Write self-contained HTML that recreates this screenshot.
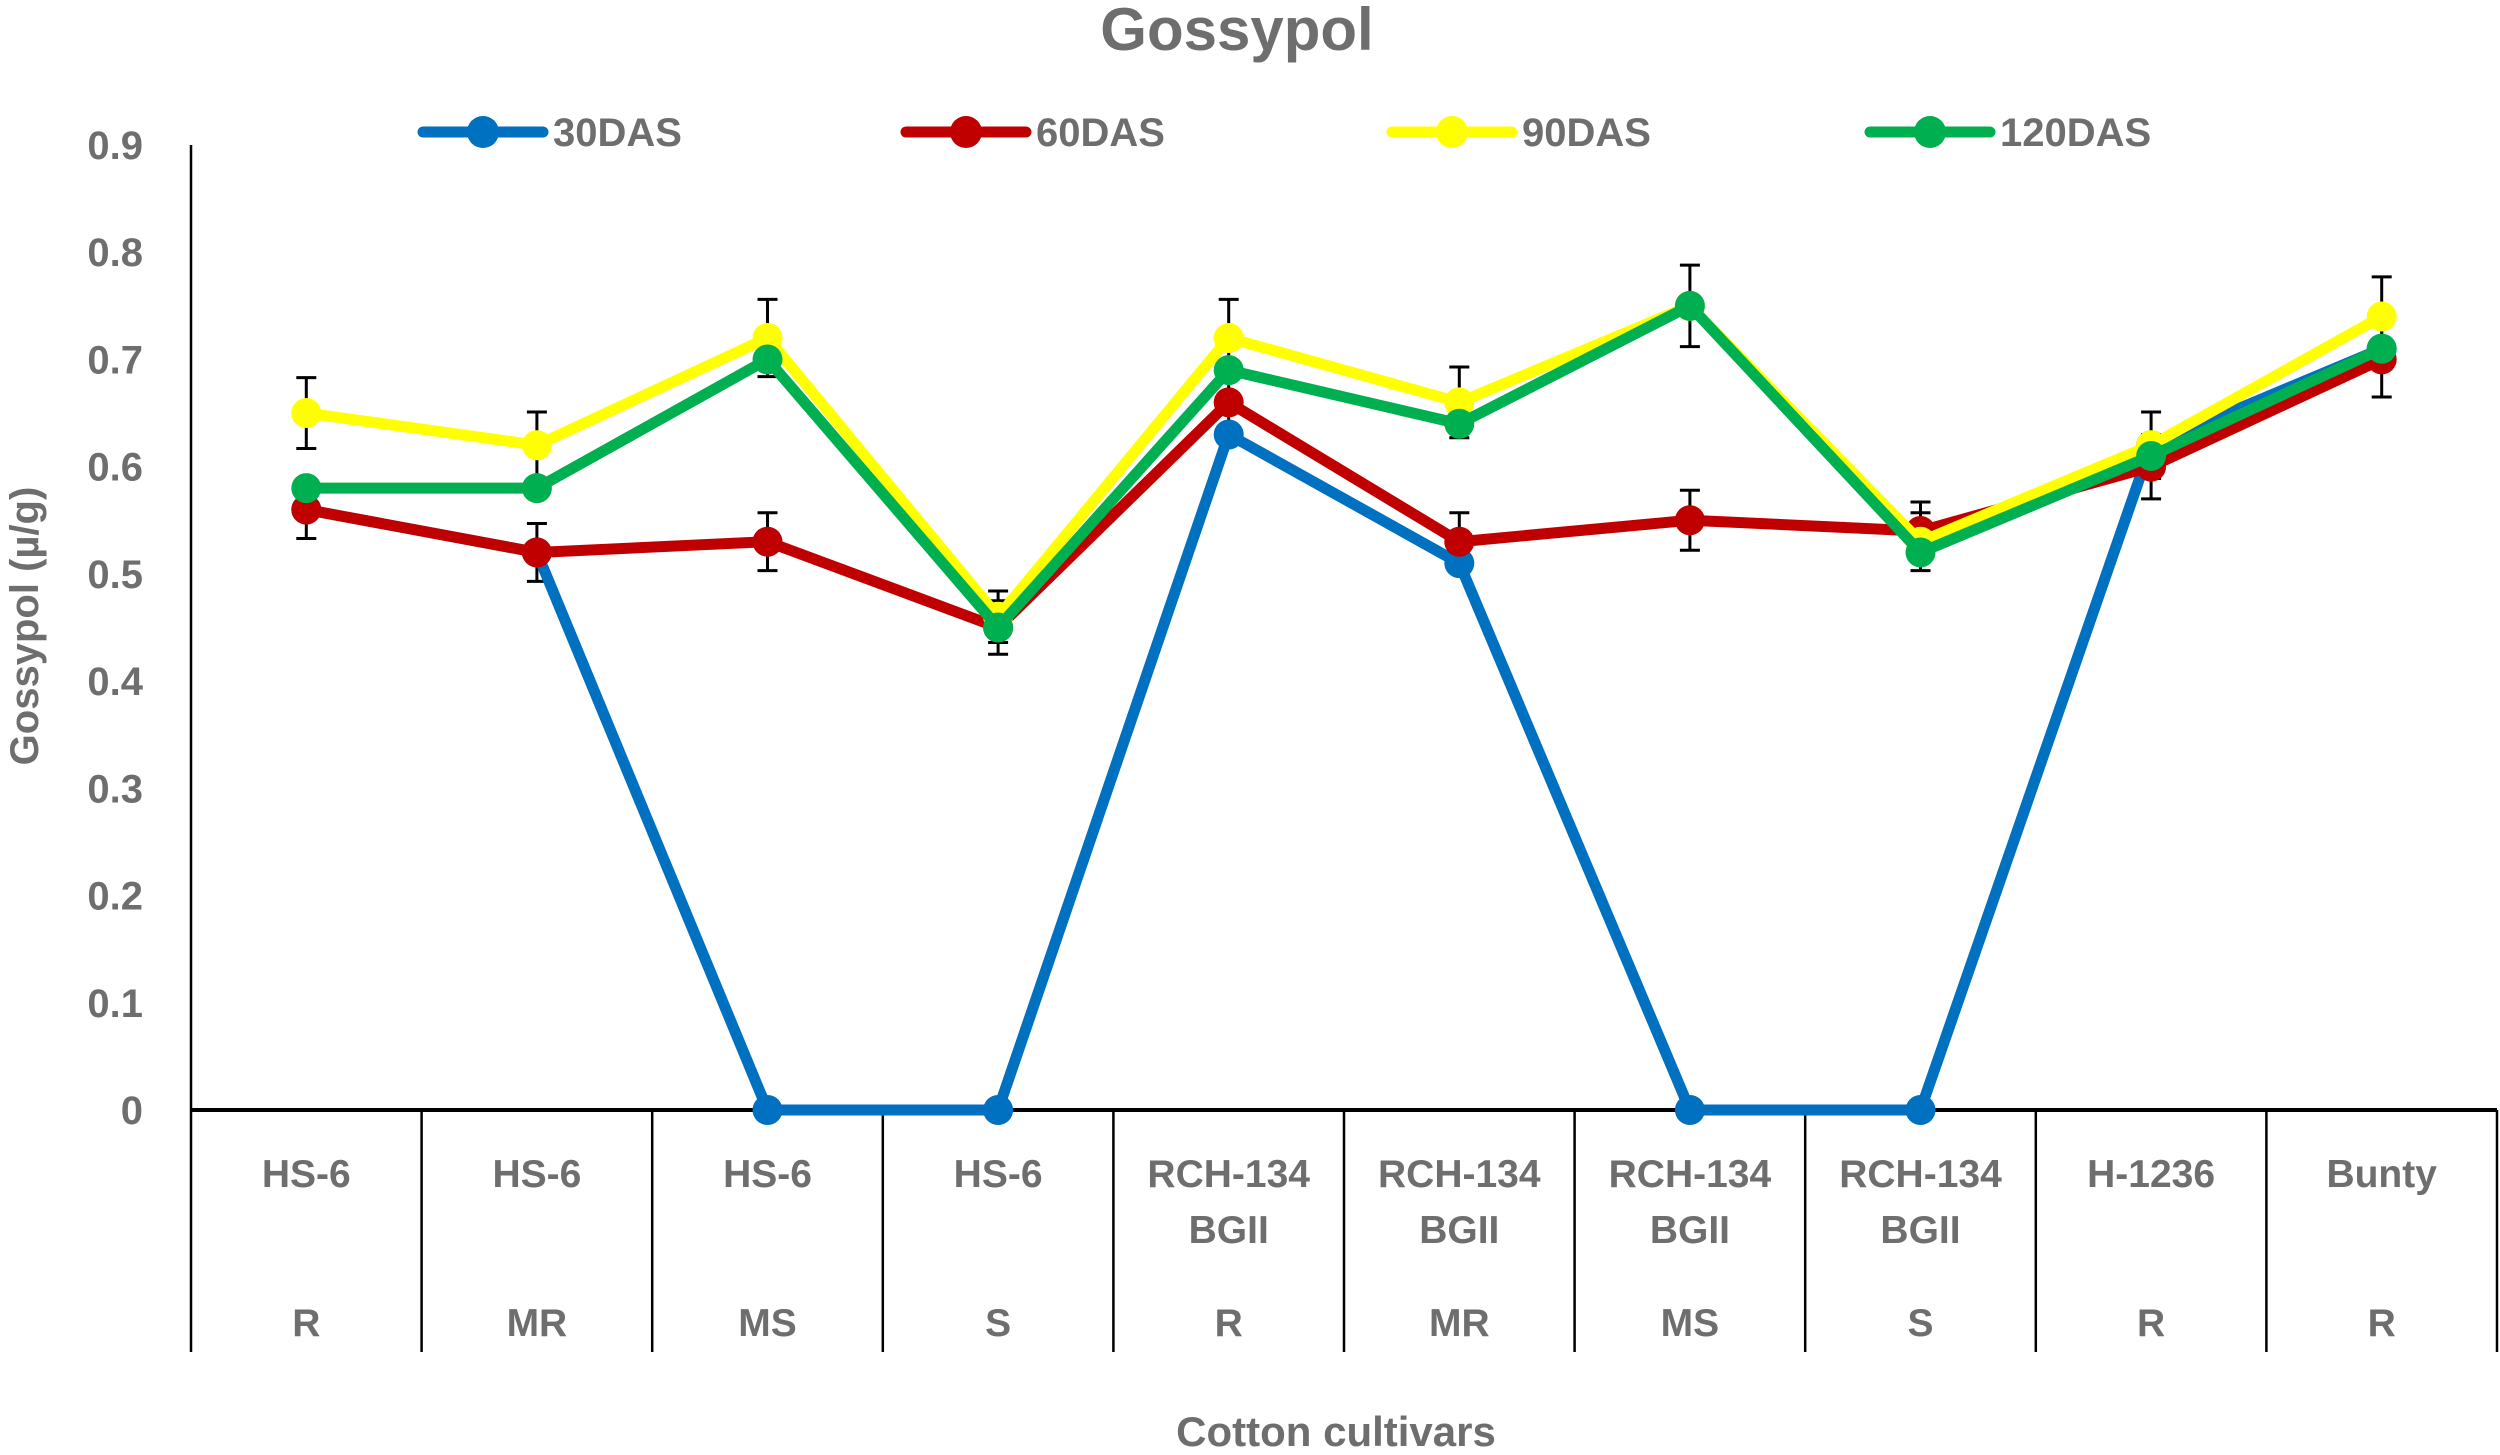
<!DOCTYPE html>
<html><head><meta charset="utf-8"><style>
body{margin:0;background:#fff;}
svg text{font-family:"Liberation Sans",sans-serif;font-weight:bold;fill:#6e6e6e;}
</style></head><body>
<svg id="chart" width="2500" height="1450" viewBox="0 0 2500 1450" xmlns="http://www.w3.org/2000/svg">
<text x="1237" y="50" font-size="60" text-anchor="middle">Gossypol</text>
<text transform="translate(38,626) rotate(-90)" font-size="40" text-anchor="middle">Gossypol (µ/g)</text>
<text x="1336" y="1446" font-size="42" text-anchor="middle">Cotton cultivars</text>
<g id="legend"></g>
<g id="axes"></g>
<g id="marks"></g>
</svg>
<script>
const categories = ["HS-6","HS-6","HS-6","HS-6","RCH-134|BGII","RCH-134|BGII","RCH-134|BGII","RCH-134|BGII","H-1236","Bunty"];
const groups = ["R","MR","MS","S","R","MR","MS","S","R","R"];
const seriesNames = ["30DAS","60DAS","90DAS","120DAS"];
const s30 = [0.56,0.52,0,0,0.63,0.51,0,0,0.62,0.71];
const s60 = [0.56,0.52,0.53,0.45,0.66,0.53,0.55,0.54,0.60,0.70];
const s90 = [0.65,0.62,0.72,0.46,0.72,0.66,0.75,0.53,0.62,0.74];
const s120 = [0.58,0.58,0.70,0.45,0.69,0.64,0.75,0.52,0.61,0.71];
const err60 = [0.027,0.027,0.027,0.025,0.033,0.027,0.028,0.027,0.03,0.035];
const err90 = [0.033,0.031,0.036,0.024,0.036,0.033,0.038,0.027,0.031,0.037];
const yTicks = [0,0.1,0.2,0.3,0.4,0.5,0.6,0.7,0.8,0.9];

const NS="http://www.w3.org/2000/svg";
const X0=191, X1=2497, Y0=1110, YTOP=145;
const cw=(X1-X0)/categories.length;
function xs(i){return X0+cw*(i+0.5);}
function ys(v){return Y0-(v/0.9)*(Y0-YTOP);}
function mk(tag,attrs,parent){const e=document.createElementNS(NS,tag);for(const k in attrs)e.setAttribute(k,attrs[k]);parent.appendChild(e);return e;}
const axes=document.getElementById('axes'), marks=document.getElementById('marks'), legend=document.getElementById('legend');

let yl=mk('line',{x1:X0,y1:YTOP,x2:X0,y2:Y0,stroke:'#000','stroke-width':2.5},axes);


let xl=mk('line',{x1:X0,y1:Y0,x2:X1,y2:Y0,stroke:'#000','stroke-width':4},axes);


yTicks.forEach(t=>{
  const tx=mk('text',{x:143,y:ys(t)+14,'font-size':40,'text-anchor':'end'},axes);
  tx.textContent=t===0?"0":t.toFixed(1);
  
  
});
for(let i=0;i<=categories.length;i++){
  const x=X0+cw*i;
  const l=mk('line',{x1:x,y1:Y0,x2:x,y2:1352,stroke:'#000','stroke-width':2.5},axes);
  
  
}
categories.forEach((c,i)=>{
  c.split('|').forEach((p,j)=>{
    const t=mk('text',{x:xs(i),y:1187+j*56,'font-size':39,'text-anchor':'middle'},axes);
    t.textContent=p;
    
    
  });
  const g=mk('text',{x:xs(i),y:1336,'font-size':39,'text-anchor':'middle'},axes);
  g.textContent=groups[i];
  
  
});

const colors=["#0070C0","#C00000","#FFFF00","#00B050"];
const data=[s30,s60,s90,s120];
[[s60,err60],[s90,err90]].forEach(([s,e])=>{
  s.forEach((v,i)=>{
    const x=xs(i), a=ys(v+e[i]), b=ys(v-e[i]);
    const eb=mk('path',{d:`M${x},${a}V${b}M${x-10},${a}H${x+10}M${x-10},${b}H${x+10}`,stroke:'#000','stroke-width':3,fill:'none'},marks);
    
    
  });
});
data.forEach((s,k)=>{
  const pts=s.map((v,i)=>xs(i)+','+ys(v)).join(' ');
  const pl=mk('polyline',{points:pts,fill:'none',stroke:colors[k],'stroke-width':11,'stroke-linejoin':'round'},marks);
  
  
  s.forEach((v,i)=>{
    const c=mk('circle',{cx:xs(i),cy:ys(v),r:15,fill:colors[k]},marks);
    
    
  });
});
const lx=[423,906,1392,1870];
seriesNames.forEach((n,k)=>{
  const g=mk('g',{},legend);
  
  
  mk('line',{x1:lx[k],y1:132,x2:lx[k]+120,y2:132,stroke:colors[k],'stroke-width':11,'stroke-linecap':'round'},g);
  mk('circle',{cx:lx[k]+60,cy:132,r:16,fill:colors[k]},g);
  const t=mk('text',{x:lx[k]+130,y:146,'font-size':40},g);
  t.textContent=n;
});
</script>
</body></html>
